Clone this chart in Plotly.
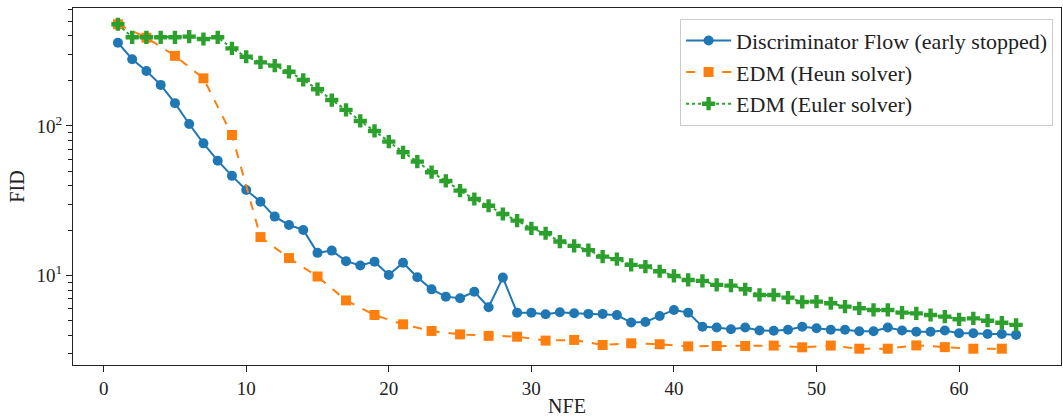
import plotly.graph_objects as go

nfe_all = list(range(1, 65))
nfe_heun = list(range(1, 64, 2))

fid_disc = [360, 279, 233, 188, 142, 103, 76.5, 58.6, 46.4, 37.3,
            31.2, 24.8, 21.8, 20.2, 14.2, 14.7, 12.5, 11.7, 12.4, 10.1,
            12.2, 9.75, 8.1, 7.24, 7.06, 7.8, 6.15, 9.7, 5.66, 5.66,
            5.52, 5.7, 5.6, 5.55, 5.55, 5.45, 4.86, 4.9, 5.38, 5.9,
            5.66, 4.56, 4.5, 4.38, 4.5, 4.3, 4.28, 4.35, 4.56, 4.45,
            4.35, 4.35, 4.25, 4.25, 4.5, 4.3, 4.22, 4.22, 4.3, 4.12,
            4.12, 4.07, 4.07, 4.02]

fid_heun = [478, 389, 294, 208, 87, 18.1, 13.1, 9.87, 6.83, 5.46,
            4.73, 4.27, 4.05, 3.96, 3.91, 3.68, 3.72, 3.44, 3.53, 3.48,
            3.37, 3.39, 3.39, 3.41, 3.32, 3.41, 3.25, 3.25, 3.42, 3.33,
            3.25, 3.25]

fid_euler = [478, 391, 391, 391, 391, 395, 381, 391, 330, 290,
             266, 253, 230, 203, 176, 149, 128, 108, 92.6, 78.6,
             66.7, 57.8, 49.1, 42.9, 37.0, 32.5, 29.3, 25.8, 23.3, 20.7,
             19.2, 16.9, 15.8, 14.8, 13.4, 12.9, 11.8, 11.5, 10.7, 9.95,
             9.36, 9.22, 8.67, 8.58, 8.11, 7.43, 7.43, 7.13, 6.67, 6.7,
             6.54, 6.21, 6.05, 5.9, 5.9, 5.66, 5.6, 5.46, 5.32, 5.11,
             5.18, 5.0, 4.85, 4.69]

names = ["Discriminator Flow (early stopped)", "EDM (Heun solver)", "EDM (Euler solver)"]
colors = ["#1f77b4", "#ff7f0e", "#2ca02c"]

x_ticks = [0, 10, 20, 30, 40, 50, 60]
y_ticks = [10, 100]
y_ticklabels = ["10<sup>1</sup>", "10<sup>2</sup>"]
y_minor = [3, 4, 5, 6, 7, 8, 9, 20, 30, 40, 50, 60, 70, 80, 90, 200, 300, 400, 500, 600]

FONT = "Liberation Serif"

fig = go.Figure()
fig.add_trace(go.Scatter(x=nfe_all, y=fid_disc, name=names[0], mode="lines+markers",
                         line=dict(color=colors[0], width=2, dash="solid"),
                         marker=dict(symbol="circle", size=10, color=colors[0])))
fig.add_trace(go.Scatter(x=nfe_heun, y=fid_heun, name=names[1], mode="lines+markers",
                         line=dict(color=colors[1], width=2, dash="dash"),
                         marker=dict(symbol="square", size=10, color=colors[1])))
fig.add_trace(go.Scatter(x=nfe_all, y=fid_euler, name=names[2], mode="lines+markers",
                         line=dict(color=colors[2], width=2, dash="dot"),
                         marker=dict(symbol="cross", size=11, color=colors[2])))

fig.update_layout(
    width=1063, height=417,
    margin=dict(l=73, r=2, t=8, b=52),
    paper_bgcolor="white", plot_bgcolor="white",
    font=dict(family=FONT, size=19, color="#222"),
    showlegend=True,
    legend=dict(x=0.992, y=0.97, xanchor="right", yanchor="top",
                bgcolor="rgba(255,255,255,0.8)", bordercolor="#cccccc", borderwidth=1,
                font=dict(family=FONT, size=22), tracegroupgap=0, itemwidth=45),
)
fig.update_xaxes(range=[-2.15, 67.15], tickvals=x_ticks, ticks="outside", ticklen=6,
                 tickwidth=1, tickcolor="#222", showline=True, linecolor="#222", linewidth=1.2,
                 mirror=True, showgrid=False, zeroline=False, automargin=False,
                 title=dict(text="NFE", font=dict(family=FONT, size=20), standoff=2))
fig.update_yaxes(type="log", range=[0.403, 2.788], tickvals=y_ticks, ticktext=y_ticklabels,
                 ticks="outside", ticklen=6, tickwidth=1, tickcolor="#222",
                 minor=dict(tickvals=y_minor, ticks="outside", ticklen=3.5, tickwidth=0.8, tickcolor="#222"),
                 showline=True, linecolor="#222", linewidth=1.2, mirror=True,
                 showgrid=False, zeroline=False, automargin=False,
                 title=dict(text="FID", font=dict(family=FONT, size=20), standoff=6))

fig.write_html("out.html", config={"displayModeBar": False},
               post_script="document.body.style.margin='0px';document.body.style.overflow='hidden';")
